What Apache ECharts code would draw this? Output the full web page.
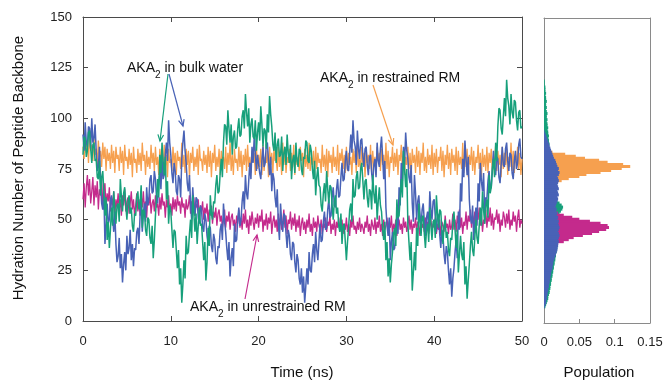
<!DOCTYPE html>
<html><head><meta charset="utf-8">
<script src="https://cdn.jsdelivr.net/npm/echarts@6/dist/echarts.min.js"></script>
<style>html,body{margin:0;padding:0;background:#fff}#c{width:666px;height:381px}</style>
</head><body><div id="c"></div>
<script>
// ---- data ----
const timeStep = 0.125; // ns between samples, t = 0 .. 50
const restrainedRM = [
86,80,91,83,88,78,92,84,87,79,90,82,85,77,89,81,
84,76,88,80,86,74,85,79,83,75,87,78,84,73,86,80,
82,74,86,78,84,72,87,79,81,75,85,77,83,71,86,78,
80,73,85,77,83,74,88,79,82,72,84,76,81,75,87,78,
83,74,86,77,81,72,85,79,84,73,87,76,82,71,85,78,
80,74,86,77,83,72,84,79,81,75,88,76,82,73,85,77,
84,71,83,78,86,74,81,76,85,72,87,79,80,74,84,77,
82,73,86,76,84,71,83,78,87,74,81,76,85,72,84,79,
81,75,86,73,83,77,88,74,82,72,85,78,80,74,86,76,
84,71,82,77,85,74,87,76,81,73,84,79,83,72,86,75,
82,76,85,72,87,74,81,78,84,71,86,77,83,73,85,79,
80,74,86,76,82,72,88,77,84,73,81,78,85,74,83,76,
87,72,84,77,81,74,86,79,83,71,85,76,82,75,88,74,
81,77,84,72,86,75,83,78,80,73,87,76,82,74,85,71,
84,78,82,73,86,76,81,74,87,72,83,79,85,75,82,73,
86,74,83,77,81,72,85,78,84,73,88,76,80,74,86,77,
83,71,85,78,82,75,87,73,84,76,81,72,86,79,83,74,
85,77,82,73,88,75,84,71,81,78,86,74,83,76,85,72,
82,79,87,74,84,72,81,77,86,75,83,71,85,78,82,73,
86,76,84,72,83,78,88,74,81,73,85,77,82,75,87,72,
83,76,85,73,81,79,86,74,84,71,82,77,87,75,83,72,
85,78,82,74,86,72,84,77,81,75,88,73,83,76,85,71,
82,77,86,74,84,72,81,78,87,75,83,71,85,76,82,74,
86,73,83,78,85,72,81,76,87,74,84,77,82,71,86,75,
83,77,85,72,81,76,88,74,84,73,82,78,86,75,83,72,
80
];
const unrestrainedRM = [
60,68,56,66,72,62,70,58,64,71,57,67,61,69,55,65,
62,70,58,64,68,56,63,59,66,54,61,57,64,52,60,56,
63,55,60,52,62,57,65,54,59,61,53,58,64,55,60,52,
57,63,54,60,52,62,56,64,55,59,51,61,57,63,53,58,
60,54,62,56,58,52,61,55,63,57,59,51,60,56,62,54,
58,52,61,55,60,54,62,57,59,53,61,56,58,51,60,55,
57,62,53,59,55,61,52,58,56,60,51,57,54,59,50,56,
53,58,49,55,52,57,48,54,51,56,47,53,55,49,52,46,
50,55,46,52,49,54,45,51,53,47,50,44,52,48,55,46,
51,45,53,48,55,46,50,43,52,47,54,49,45,51,48,53,
46,52,49,55,44,50,47,53,45,51,48,54,43,49,52,46,
50,44,53,47,51,45,49,55,46,52,43,50,48,54,45,51,
47,53,44,50,46,52,42,48,51,45,49,43,50,46,53,44,
48,42,51,46,49,44,52,47,45,50,43,48,46,51,44,49,
47,52,43,48,45,50,42,49,46,51,44,47,50,43,48,45,
51,44,48,42,50,46,52,45,47,43,49,45,51,44,48,46,
43,49,46,52,44,48,42,50,47,45,51,43,49,46,52,44,
48,42,50,45,47,51,44,49,46,52,43,48,45,50,42,47,
50,45,48,43,51,46,49,44,47,52,45,50,43,48,46,51,
44,49,47,42,50,46,48,44,51,45,49,43,47,50,45,48,
46,51,43,48,45,50,42,49,47,44,52,46,48,43,50,45,
47,53,45,50,44,52,48,55,46,51,43,49,47,54,45,52,
49,55,46,52,48,54,45,51,50,56,47,53,44,50,48,55,
46,52,49,56,47,53,45,51,50,55,48,53,44,50,47,54,
51,46,53,48,55,45,50,47,54,49,52,44,51,55,46,50,
48
];
const bulkWaterBlue = [
92,84,98,88,86,96,95,85, 100,88,90,97,84,74,76,86,
68,58,55,64,38,47,58,48, 50,60,62,51,44,54,38,29,
32,41,26,33,19,28,34,25, 42,33,36,45,30,38,27,36,
35,44,46,38,52,60,44,53, 58,49,66,57,60,70,72,63,
64,74,70,61,58,68,74,65, 80,70,72,82,88,79,99,88,
82,73,68,78,74,64,62,72, 70,61,80,88,94,84,78,68,
64,72,58,50,66,57,52,61, 60,51,48,57,55,46,44,53,
50,42,38,47,46,37,34,43, 40,31,28,37,36,45,48,40,
58,49,44,36,30,39,22,31, 36,27,48,39,40,50,56,47,
50,59,64,55,72,63,60,69, 78,70,86,78,91,83,74,82,
82,73,70,79,86,76,78,87, 88,79,72,81,64,73,70,61,
56,65,48,40,58,49,44,53, 52,43,36,45,42,33,30,39,
38,29,24,33,30,21,18,26, 14,22,9,17,26,18,34,25,
24,33,38,29,44,35,30,39, 48,39,40,49,54,45,46,55,
60,51,52,61,66,57,56,65, 70,61,62,71,78,69,70,79,
84,75,74,83,92,83,99,89, 86,77,94,85,80,89,90,81,
76,85,86,77,72,81,82,73, 68,77,80,71,88,79,76,85,
91,81,70,79,56,47,42,51, 30,39,44,35,36,45,52,43,
66,57,78,69,86,77,93,84, 80,71,68,77,58,49,72,63,
50,59,62,53,46,55,58,49, 42,51,54,45,64,55,50,59,
60,51,44,53,52,43,36,45, 42,33,28,37,34,25,18,26,
12,21,26,34,40,31,54,45, 68,59,80,71,89,80,72,81,
60,51,48,57,40,49,56,47, 68,59,78,69,64,73,52,61,
60,69,74,65,66,75,84,75, 72,81,80,71,68,77,86,77,
76,85,88,79,74,83,82,73, 70,79,84,75,78,87,90,81,
80
];
const bulkWaterGreen = [
82,91,90,81,84,93,94,85, 78,87,88,79,80,71,70,79,
62,71,74,64,52,61,40,49, 36,45,56,47,64,55,48,57,
58,49,70,61,54,63,66,57, 50,59,62,53,56,47,44,53,
52,61,64,55,58,67,46,55, 54,45,42,51,50,41,38,47,
31,40,52,61,70,61,82,73, 88,79,72,81,60,69,48,57,
54,45,36,45,44,35,26,35, 18,26,9,18,30,21,42,33,
34,43,50,41,62,53,44,53, 38,47,56,47,48,39,30,39,
20,29,46,37,62,53,50,59, 58,67,72,63,64,73,80,71,
88,97,96,87,104,95,88,97, 82,91,94,85,86,95,100,91,
92,101,104,95,112,103,96,105, 88,97,100,91,90,99,84,93,
98,89,106,97,86,95,94,85, 102,93,111,102,96,87,84,93,
78,87,90,81,82,91,74,83, 86,77,92,83,78,87,70,79,
82,73,88,79,76,85,84,75, 72,81,80,89,88,79,78,87,
84,75,70,79,62,71,76,67, 66,57,54,63,68,59,74,65,
58,67,66,57,50,59,62,53, 56,47,44,53,38,47,48,39,
30,39,46,55,58,49,70,61, 62,71,74,65,66,75,78,69,
60,69,70,61,56,65,64,55, 72,63,58,67,50,59,66,57,
54,45,40,49,30,39,22,31, 19,28,34,43,46,37,60,51,
52,61,70,61,84,75,66,75, 48,39,30,39,15,24,34,25,
46,37,58,49,42,51,52,43, 36,45,48,39,56,47,40,49,
50,41,62,53,46,55,54,45, 38,47,50,41,44,35,32,41,
40,49,54,45,36,45,24,33, 42,33,30,39,18,27,11,20,
28,37,44,35,32,41,50,41, 38,47,56,47,64,55,48,57,
60,51,72,63,66,75,80,71, 88,79,96,105,104,95,92,101,
110,101,119,110,106,97,112,103, 100,109,108,99,94,103,104,95,
96
];
// histograms: population per 1-unit hydration bin, first bin centre given
const histBinWidth = 1;
const restrainedHistStart = 68;
const restrainedHist = [0.005,0.015,0.025,0.035,0.05,0.06,0.08,0.095,0.11,0.122,0.112,0.09,0.078,0.058,0.045,0.03,0.012,0.004];
const unrestrainedHistStart = 37;
const unrestrainedHist = [0.008,0.015,0.02,0.028,0.035,0.042,0.055,0.068,0.078,0.088,0.092,0.09,0.08,0.065,0.05,0.04,0.028,0.02,0.012,0.006,0.003];
const blueHistStart = 8;
const blueHist = [
0.001,0.002,0.003,0.003,0.004,0.004,0.005,0.005,0.006,0.006,
0.007,0.007,0.008,0.008,0.009,0.009,0.010,0.010,0.011,0.012,
0.012,0.013,0.013,0.014,0.015,0.016,0.017,0.018,0.019,0.019,
0.020,0.020,0.021,0.020,0.021,0.022,0.021,0.020,0.021,0.022,
0.021,0.020,0.021,0.019,0.020,0.018,0.019,0.017,0.018,0.016,
0.017,0.018,0.019,0.020,0.019,0.021,0.020,0.019,0.021,0.020,
0.019,0.020,0.021,0.020,0.019,0.021,0.022,0.020,0.021,0.019,
0.018,0.017,0.016,0.014,0.013,0.012,0.011,0.010,0.009,0.008,
0.007,0.006,0.005,0.004,0.003,0.002,0.001];
const greenHistStart = 8;
const greenHist = [
0.002,0.003,0.004,0.005,0.006,0.006,0.007,0.008,0.008,0.009,
0.009,0.010,0.010,0.011,0.011,0.012,0.012,0.013,0.013,0.014,
0.014,0.015,0.015,0.016,0.016,0.017,0.017,0.018,0.018,0.019,
0.019,0.018,0.019,0.020,0.019,0.018,0.020,0.019,0.018,0.019,
0.018,0.019,0.020,0.021,0.019,0.020,0.022,0.024,0.026,0.027,
0.025,0.022,0.019,0.018,0.017,0.018,0.016,0.017,0.015,0.016,
0.015,0.014,0.015,0.013,0.014,0.012,0.013,0.012,0.011,0.012,
0.011,0.010,0.010,0.009,0.009,0.008,0.009,0.008,0.008,0.007,
0.008,0.007,0.007,0.006,0.007,0.006,0.006,0.005,0.006,0.005,
0.005,0.004,0.005,0.004,0.004,0.005,0.004,0.003,0.004,0.003,
0.003,0.004,0.003,0.003,0.002,0.003,0.002,0.002,0.002,0.001,
0.001,0.001];
const xTicks = {min: 0, max: 50, interval: 10};
const yTicks = {min: 0, max: 150, interval: 25};
const popTicks = {min: 0, max: 0.15, interval: 0.05};

// ---- style ----
const FONT = '"Liberation Sans", Arial, Helvetica, sans-serif';
const C = {orange: '#f6a04f', magenta: '#c42a8c', blue: '#4862b6', green: '#17a07b'};
const frame = '#4a4a4a', frame2 = '#8a8a8a';

function pairs(arr) { return arr.map((v, i) => [i * timeStep, v]); }
function hist(arr, start) { return arr.map((p, i) => [p, start + i * histBinWidth]); }
function lineSeries(name, arr, color, width) {
  return {type: 'line', name, data: pairs(arr), xAxisIndex: 0, yAxisIndex: 0,
    showSymbol: false, symbol: 'none', lineStyle: {color, width}, itemStyle: {color}, silent: true};
}
function histSeries(name, arr, start, color) {
  return {type: 'custom', name, xAxisIndex: 2, yAxisIndex: 2, data: hist(arr, start), silent: true,
    renderItem(params, api) {
      const p = api.value(0), c = api.value(1);
      const a = api.coord([0, c + histBinWidth / 2]);
      const b = api.coord([p, c - histBinWidth / 2]);
      return {type: 'rect', shape: {x: a[0], y: a[1] - 0.5, width: b[0] - a[0], height: b[1] - a[1] + 1},
        style: {fill: color}};
    }};
}
function arrow(x1, y1, x2, y2, color) {
  const a = Math.atan2(y2 - y1, x2 - x1), L = 7, w = 0.42;
  return [
    {type: 'line', z: 100, shape: {x1, y1, x2, y2}, style: {stroke: color, lineWidth: 1.2}},
    {type: 'polyline', z: 100, shape: {points: [[x2 - L * Math.cos(a - w), y2 - L * Math.sin(a - w)], [x2, y2], [x2 - L * Math.cos(a + w), y2 - L * Math.sin(a + w)]]},
      style: {stroke: color, fill: null, lineWidth: 1.2}}
  ];
}
function label(x, y, rest) {
  return {type: 'text', z: 100, x, y, style: {
    text: '{a|AKA}{s|2}{a|' + rest + '}', fill: '#111', fontFamily: FONT, fontSize: 14,
    align: 'left', verticalAlign: 'middle', textAlign: 'left', textVerticalAlign: 'middle',
    rich: {a: {fontSize: 14, fontFamily: FONT, fill: '#111'}, s: {fontSize: 10, fontFamily: FONT, fill: '#111', padding: [14, 0, 0, 0]}}
  }};
}
function plain(x, y, text, size, rot) {
  return {type: 'text', z: 100, x, y, rotation: rot || 0, style: {text, fill: '#111', fontFamily: FONT, fontSize: size,
    align: 'center', verticalAlign: 'middle', textAlign: 'center', textVerticalAlign: 'middle'}};
}

const axLbl = {fontSize: 13, color: '#222', fontFamily: FONT};
function axLine(color) { return {show: true, onZero: false, lineStyle: {color, width: 1}}; }
const option = {
  animation: false,
  backgroundColor: '#fff',
  grid: [
    {left: 83, top: 17, width: 439, height: 304},
    {left: 544, top: 18, width: 106, height: 305}
  ],
  xAxis: [
    Object.assign({gridIndex: 0, type: 'value', position: 'bottom', axisLine: axLine(frame),
      axisTick: {inside: true, length: 5, lineStyle: {color: frame}}, axisLabel: Object.assign({margin: 14}, axLbl), splitLine: {show: false}}, xTicks),
    Object.assign({gridIndex: 0, type: 'value', position: 'top', axisLine: axLine(frame),
      axisTick: {inside: true, length: 5, lineStyle: {color: frame}}, axisLabel: {show: false}, splitLine: {show: false}}, xTicks),
    Object.assign({gridIndex: 1, type: 'value', position: 'bottom', axisLine: axLine(frame2),
      axisTick: {inside: true, length: 4, lineStyle: {color: frame2}}, axisLabel: Object.assign({margin: 13}, axLbl), splitLine: {show: false}}, popTicks),
    Object.assign({gridIndex: 1, type: 'value', position: 'top', axisLine: axLine(frame2),
      axisTick: {show: false}, axisLabel: {show: false}, splitLine: {show: false}}, popTicks)
  ],
  yAxis: [
    Object.assign({gridIndex: 0, type: 'value', position: 'left', axisLine: axLine(frame),
      axisTick: {show: true, inside: true, length: 5, lineStyle: {color: frame}}, axisLabel: Object.assign({margin: 11}, axLbl), splitLine: {show: false}}, yTicks),
    Object.assign({gridIndex: 0, type: 'value', position: 'right', axisLine: axLine(frame),
      axisTick: {show: true, inside: true, length: 5, lineStyle: {color: frame}}, axisLabel: {show: false}, splitLine: {show: false}}, yTicks),
    Object.assign({gridIndex: 1, type: 'value', position: 'left', axisLine: axLine(frame2),
      axisTick: {show: false}, axisLabel: {show: false}, splitLine: {show: false}}, yTicks),
    Object.assign({gridIndex: 1, type: 'value', position: 'right', axisLine: axLine(frame2),
      axisTick: {show: false}, axisLabel: {show: false}, splitLine: {show: false}}, yTicks)
  ],
  series: [
    lineSeries('AKA2 in restrained RM', restrainedRM, C.orange, 1.3),
    lineSeries('AKA2 in unrestrained RM', unrestrainedRM, C.magenta, 1.3),
    lineSeries('AKA2 in bulk water (1)', bulkWaterBlue, C.blue, 1.5),
    lineSeries('AKA2 in bulk water (2)', bulkWaterGreen, C.green, 1.5),
    histSeries('green hist', greenHist, greenHistStart, C.green),
    histSeries('orange hist', restrainedHist, restrainedHistStart, C.orange),
    histSeries('magenta hist', unrestrainedHist, unrestrainedHistStart, C.magenta),
    histSeries('blue hist', blueHist, blueHistStart, C.blue)
  ],
  graphic: [
    label(127, 68, ' in bulk water'),
    label(320, 78, ' in restrained RM'),
    label(190, 307, ' in unrestrained RM'),
    ...arrow(168, 74, 160, 141, C.green),
    ...arrow(169, 74, 183, 126, C.blue),
    ...arrow(373, 85, 393, 145, C.orange),
    ...arrow(245, 299, 257, 235, C.magenta),
    plain(302, 373, 'Time (ns)', 15),
    plain(599, 373, 'Population', 15),
    plain(19, 168, 'Hydration Number of Peptide Backbone', 15, Math.PI / 2)
  ]
};
const chart = echarts.init(document.getElementById('c'), null, {renderer: 'canvas'});
chart.setOption(option);
</script></body></html>
